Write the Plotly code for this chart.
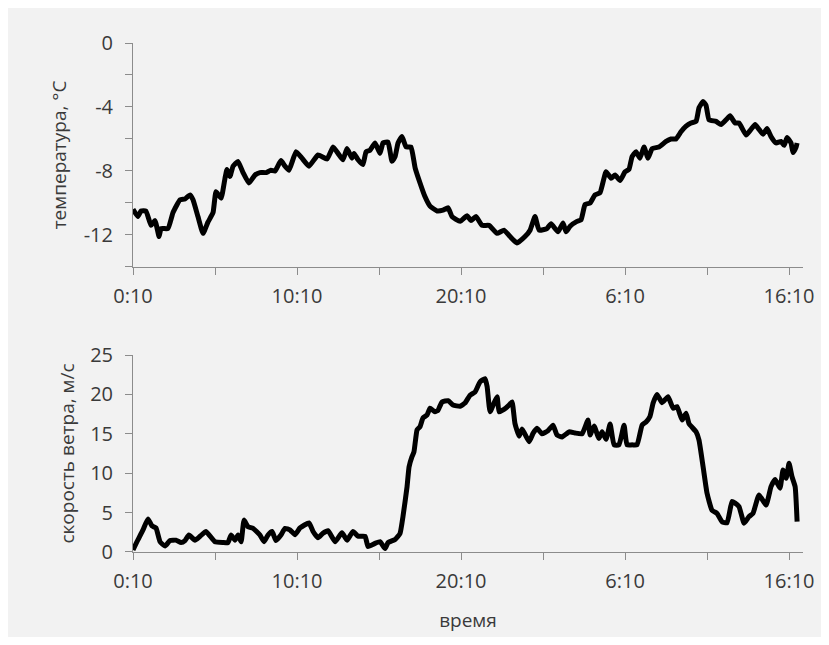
import plotly.graph_objects as go

# time in hours after 0:10
temp_t = [0.00, 0.30, 0.49, 0.79, 1.10, 1.34, 1.59, 1.71, 2.13, 2.44, 2.87, 3.17, 3.48, 3.66, 3.96,
          4.27, 4.57, 4.88, 5.06, 5.37, 5.61, 5.73, 5.91, 6.10, 6.40, 6.71, 7.07, 7.44, 7.74, 8.11,
          8.41, 8.66, 9.02, 9.27, 9.51, 9.94, 10.30, 10.73, 11.28, 11.83, 12.20, 12.50, 12.80, 13.05,
          13.35, 13.48, 13.72, 14.02, 14.21, 14.45, 14.76, 15.06, 15.24, 15.55, 15.79, 15.98, 16.16,
          16.40, 16.65, 16.95, 17.20, 17.50, 17.80, 18.11, 18.54, 18.90, 19.21, 19.45, 19.94, 20.37,
          20.61, 20.91, 21.28, 21.71, 22.20, 22.62, 22.99, 23.41, 23.90, 24.21, 24.51, 24.76, 25.24,
          25.49, 25.91, 26.22, 26.40, 26.65, 27.07, 27.32, 27.56, 27.87, 28.17, 28.48, 28.84, 29.15,
          29.39, 29.70, 30.00, 30.24, 30.43, 30.67, 30.91, 31.16, 31.40, 31.65, 32.07, 32.50, 32.80,
          33.11, 33.41, 33.72, 34.02, 34.33, 34.51, 34.76, 34.94, 35.12, 35.55, 35.85, 36.16, 36.40,
          36.71, 36.95, 37.38, 37.68, 37.93, 38.17, 38.41, 38.66, 38.90, 39.21, 39.51, 39.70, 39.88,
          40.12, 40.24, 40.43, 40.49]
temperature = [-10.4, -10.85, -10.5, -10.5, -11.4, -11.1, -12.1, -11.6, -11.6, -10.6, -9.8, -9.75,
               -9.5, -9.8, -10.85, -11.9, -11.2, -10.6, -9.3, -9.7, -8.45, -7.9, -8.35, -7.7, -7.4,
               -8.1, -8.75, -8.25, -8.1, -8.1, -7.95, -8.0, -7.35, -7.7, -7.95, -6.8, -7.2, -7.7,
               -7.0, -7.25, -6.5, -6.9, -7.3, -6.6, -7.2, -6.9, -7.3, -7.6, -6.8, -6.7, -6.25, -6.9,
               -6.25, -6.2, -7.4, -7.1, -6.25, -5.85, -6.5, -6.5, -7.8, -8.75, -9.6, -10.2, -10.5,
               -10.45, -10.3, -10.85, -11.15, -10.8, -11.1, -10.85, -11.4, -11.4, -11.9, -11.7, -12.1,
               -12.5, -12.1, -11.7, -10.85, -11.7, -11.6, -11.3, -11.8, -11.25, -11.8, -11.45, -11.15,
               -11.05, -10.1, -10.0, -9.5, -9.35, -8.05, -8.45, -8.25, -8.6, -8.05, -7.9, -7.1, -6.8,
               -7.2, -6.5, -7.2, -6.6, -6.5, -6.15, -6.0, -6.0, -5.55, -5.2, -5.0, -4.9, -4.05, -3.65,
               -3.9, -4.8, -4.9, -5.1, -4.8, -4.55, -5.0, -5.0, -5.75, -5.4, -5.1, -5.4, -5.7, -5.35,
               -5.85, -6.25, -6.15, -6.4, -5.9, -6.25, -6.85, -6.5, -6.25]

wind_t = [0.00, 0.24, 0.61, 0.91, 1.16, 1.40, 1.65, 1.95, 2.26, 2.62, 2.93, 3.17, 3.41, 3.78, 4.09,
          4.45, 5.00, 5.49, 5.79, 5.98, 6.22, 6.40, 6.59, 6.77, 7.01, 7.32, 7.74, 7.99, 8.23, 8.48,
          8.72, 9.02, 9.27, 9.57, 9.88, 10.18, 10.73, 10.98, 11.28, 11.59, 11.89, 12.32, 12.74, 13.05,
          13.41, 13.72, 14.15, 14.33, 14.76, 15.06, 15.37, 15.55, 15.98, 16.28, 16.46, 16.71, 16.83,
          17.01, 17.13, 17.32, 17.50, 17.68, 17.93, 18.11, 18.41, 18.60, 18.84, 19.21, 19.51, 19.94,
          20.24, 20.55, 20.85, 21.16, 21.46, 21.59, 21.77, 22.01, 22.20, 22.32, 22.62, 22.93, 23.11,
          23.29, 23.54, 23.72, 24.15, 24.39, 24.63, 24.94, 25.30, 25.61, 25.85, 26.16, 26.59, 26.95,
          27.38, 27.74, 27.87, 28.11, 28.41, 28.60, 28.84, 29.09, 29.33, 29.63, 29.94, 30.12, 30.43,
          30.73, 31.04, 31.28, 31.52, 31.71, 31.95, 32.26, 32.62, 32.93, 33.17, 33.48, 33.72, 33.90,
          34.33, 34.51, 34.76, 35.00, 35.30, 35.61, 35.91, 36.22, 36.52, 36.71, 36.95, 37.26, 37.56,
          37.80, 38.17, 38.60, 38.90, 39.15, 39.45, 39.63, 39.82, 40.00, 40.18, 40.37, 40.49]
wind = [0.25, 1.3, 2.8, 4.2, 3.3, 3.05, 1.3, 0.75, 1.45, 1.5, 1.2, 1.45, 2.15, 1.5, 2.0, 2.6, 1.3,
        1.2, 1.2, 2.15, 1.5, 2.15, 1.3, 4.05, 3.2, 3.0, 2.15, 1.3, 2.15, 2.6, 1.45, 2.15, 3.0, 2.8,
        2.2, 3.05, 3.7, 2.6, 1.8, 2.4, 2.7, 1.3, 2.45, 1.5, 2.6, 2.0, 2.0, 0.7, 1.1, 1.3, 0.45, 1.2,
        1.6, 2.35, 4.5, 8.3, 10.8, 12.1, 12.7, 15.5, 15.9, 17.0, 17.4, 18.25, 17.8, 18.0, 19.05,
        19.2, 18.65, 18.5, 18.9, 19.9, 20.3, 21.6, 22.0, 21.0, 17.8, 18.9, 19.7, 17.8, 18.1, 18.65,
        19.05, 16.3, 14.7, 15.6, 14.0, 15.05, 15.7, 15.0, 15.4, 16.1, 14.85, 14.6, 15.25, 15.1,
        15.0, 16.75, 14.85, 16.0, 14.4, 15.25, 14.3, 16.25, 13.6, 13.6, 16.1, 13.6, 13.6, 13.6,
        16.1, 16.5, 17.2, 18.9, 20.0, 18.95, 19.7, 18.25, 18.45, 16.75, 17.6, 16.3, 15.25, 14.2,
        10.8, 7.45, 5.3, 4.9, 3.85, 3.7, 6.4, 6.2, 5.75, 3.65, 4.5, 4.9, 7.25, 5.95, 8.3, 9.2, 8.1,
        10.4, 9.35, 11.25, 9.55, 8.3, 3.85]

x_tickvals = [0, 5, 10, 15, 20, 25, 30, 35, 40]
x_ticktext = ["0:10", "", "10:10", "", "20:10", "", "6:10", "", "16:10"]
temp_tickvals = [-14, -12, -10, -8, -6, -4, -2, 0]
temp_ticktext = ["", "-12", "", "-8", "", "-4", "", "0"]
wind_tickvals = [0, 5, 10, 15, 20, 25]

AX = "#8c8c8c"
TXT = "#3a3a3a"
FONT = "Open Sans"

fig = go.Figure()
fig.add_trace(go.Scatter(x=temp_t, y=temperature, mode="lines",
                         line=dict(color="black", width=5, shape="spline", smoothing=0.4),
                         xaxis="x", yaxis="y"))
fig.add_trace(go.Scatter(x=wind_t, y=wind, mode="lines",
                         line=dict(color="black", width=5, shape="spline", smoothing=0.4),
                         xaxis="x2", yaxis="y2"))

xcommon = dict(range=[0, 40.85], tickmode="array", tickvals=x_tickvals, ticktext=x_ticktext,
               showline=True, linecolor=AX, linewidth=1, ticks="outside", ticklen=7,
               tickcolor=AX, showgrid=False, zeroline=False, automargin=False,
               tickfont=dict(family=FONT, size=20, color=TXT), ticklabelstandoff=4)

fig.update_layout(
    showlegend=False,
    paper_bgcolor="#f2f2f2",
    plot_bgcolor="#f2f2f2",
    margin=dict(l=125, r=18, t=35, b=85),
    font=dict(family=FONT, color=TXT),
    xaxis=dict(domain=[0, 1], anchor="y", **xcommon),
    xaxis2=dict(domain=[0, 1], anchor="y2",
                title=dict(text="время", font=dict(family=FONT, size=19, color=TXT), standoff=20),
                **xcommon),
    yaxis=dict(domain=[0.560, 1], anchor="x", range=[-14, 0], tickmode="array",
               tickvals=temp_tickvals, ticktext=temp_ticktext, automargin=False,
               showline=True, linecolor=AX, linewidth=1, ticks="outside", ticklen=7,
               tickcolor=AX, showgrid=False, zeroline=False,
               tickfont=dict(family=FONT, size=20, color=TXT), ticklabelstandoff=8,
               title=dict(text="температура, °C", font=dict(family=FONT, size=19, color=TXT),
                          standoff=12)),
    yaxis2=dict(domain=[0, 0.387], anchor="x2", range=[0, 25], tickmode="array",
                tickvals=wind_tickvals, automargin=False,
                showline=True, linecolor=AX, linewidth=1, ticks="outside", ticklen=7,
                tickcolor=AX, showgrid=False, zeroline=False,
                tickfont=dict(family=FONT, size=20, color=TXT), ticklabelstandoff=8,
                title=dict(text="скорость ветра, м/с", font=dict(family=FONT, size=19, color=TXT),
                           standoff=10)),
)

fig.write_html("out.html")
